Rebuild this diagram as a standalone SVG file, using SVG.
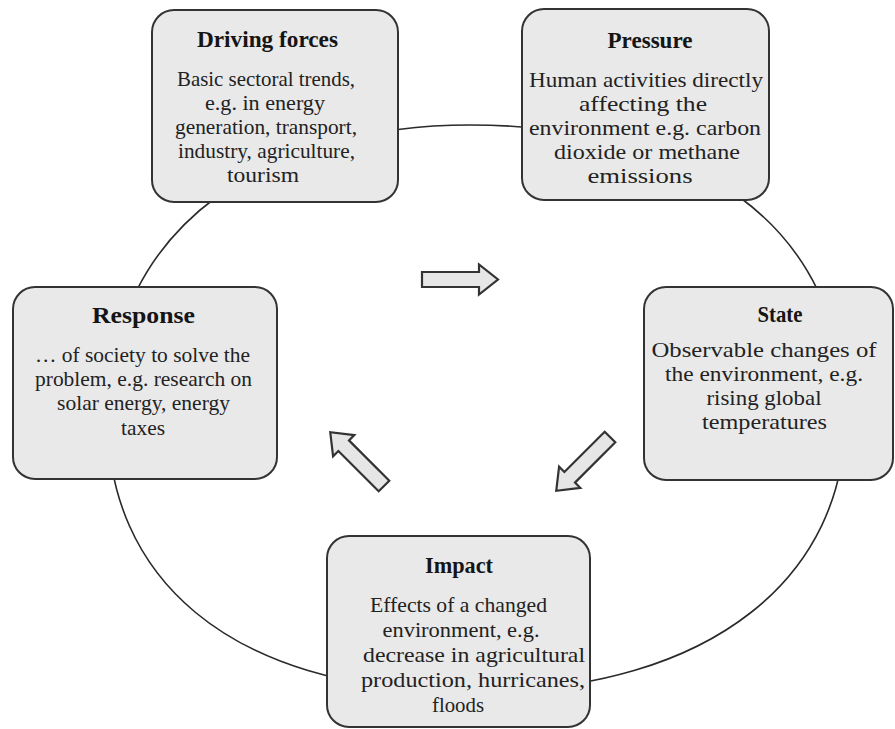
<svg xmlns="http://www.w3.org/2000/svg" width="895" height="729" viewBox="0 0 895 729">
<style>
.box{fill:#e9e9e9;stroke:#333;stroke-width:2}
.t{font-family:"Liberation Serif","Times New Roman",serif;font-weight:bold;font-size:22.5px;fill:#151515;text-anchor:middle}
.b{font-family:"Liberation Serif","Times New Roman",serif;font-size:22px;fill:#222;text-anchor:middle}
.ring{fill:none;stroke:#2a2a2a;stroke-width:1.6}
.arr{fill:#e6e6e6;stroke:#333;stroke-width:2.2;stroke-linejoin:miter}
</style>
<defs>
<path id="blk" d="M0,-7.5 H57 V-15 L76,0 L57,15 V7.5 H0 Z"/>
</defs>
<rect width="895" height="729" fill="#ffffff"/>
<g id="connectors">
<path class="ring" d="M470,125 C690,125 845,220 845,420 C845,570 720,692 470,692 C220,692 108,570 108,420 C108,220 275,125 470,125 Z"/>
<use href="#blk" class="arr" transform="translate(422,279.5)"/>
<use href="#blk" class="arr" transform="translate(610,437) rotate(135)"/>
<use href="#blk" class="arr" transform="translate(384,486) rotate(225)"/>
</g>
<g id="driving">
<rect class="box" x="152" y="10" width="246" height="192" rx="22"/>
<text class="t" x="267.5" y="47" textLength="141" lengthAdjust="spacingAndGlyphs">Driving forces</text>
<text class="b" x="266" y="86" textLength="178" lengthAdjust="spacingAndGlyphs">Basic sectoral trends,</text>
<text class="b" x="265" y="110" textLength="120" lengthAdjust="spacingAndGlyphs">e.g. in energy</text>
<text class="b" x="266" y="134" textLength="182" lengthAdjust="spacingAndGlyphs">generation, transport,</text>
<text class="b" x="266.5" y="158" textLength="177" lengthAdjust="spacingAndGlyphs">industry, agriculture,</text>
<text class="b" x="263" y="182" textLength="72" lengthAdjust="spacingAndGlyphs">tourism</text>
</g>
<g id="pressure">
<rect class="box" x="522" y="9" width="247" height="191" rx="22"/>
<text class="t" x="650" y="48" textLength="85" lengthAdjust="spacingAndGlyphs">Pressure</text>
<text class="b" x="646" y="87" textLength="234" lengthAdjust="spacingAndGlyphs">Human activities directly</text>
<text class="b" x="643" y="111" textLength="128" lengthAdjust="spacingAndGlyphs">affecting the</text>
<text class="b" x="645" y="135" textLength="232" lengthAdjust="spacingAndGlyphs">environment e.g. carbon</text>
<text class="b" x="647" y="159" textLength="186" lengthAdjust="spacingAndGlyphs">dioxide or methane</text>
<text class="b" x="640" y="183" textLength="105" lengthAdjust="spacingAndGlyphs">emissions</text>
</g>
<g id="response">
<rect class="box" x="13" y="287" width="264" height="192" rx="22"/>
<text class="t" x="143.5" y="323" textLength="103" lengthAdjust="spacingAndGlyphs">Response</text>
<text class="b" x="142.5" y="362" textLength="215" lengthAdjust="spacingAndGlyphs">… of society to solve the</text>
<text class="b" x="143.5" y="386" textLength="217" lengthAdjust="spacingAndGlyphs">problem, e.g. research on</text>
<text class="b" x="143.5" y="410" textLength="173" lengthAdjust="spacingAndGlyphs">solar energy, energy</text>
<text class="b" x="143" y="435" textLength="44" lengthAdjust="spacingAndGlyphs">taxes</text>
</g>
<g id="state">
<rect class="box" x="644" y="287" width="249" height="193" rx="22"/>
<text class="t" x="780" y="322" textLength="45" lengthAdjust="spacingAndGlyphs">State</text>
<text class="b" x="764" y="357" textLength="225" lengthAdjust="spacingAndGlyphs">Observable changes of</text>
<text class="b" x="764" y="381" textLength="198" lengthAdjust="spacingAndGlyphs">the environment, e.g.</text>
<text class="b" x="764" y="405" textLength="115" lengthAdjust="spacingAndGlyphs">rising global</text>
<text class="b" x="764.5" y="429" textLength="125" lengthAdjust="spacingAndGlyphs">temperatures</text>
</g>
<g id="impact">
<rect class="box" x="327" y="536" width="263" height="191" rx="22"/>
<text class="t" x="459" y="573" textLength="68" lengthAdjust="spacingAndGlyphs">Impact</text>
<text class="b" x="458.5" y="612" textLength="177" lengthAdjust="spacingAndGlyphs">Effects of a changed</text>
<text class="b" x="461" y="637" textLength="157" lengthAdjust="spacingAndGlyphs">environment, e.g.</text>
<text class="b" x="474" y="662" textLength="222" lengthAdjust="spacingAndGlyphs">decrease in agricultural</text>
<text class="b" x="473" y="687" textLength="224" lengthAdjust="spacingAndGlyphs">production, hurricanes,</text>
<text class="b" x="458" y="712" textLength="52" lengthAdjust="spacingAndGlyphs">floods</text>
</g>
</svg>
